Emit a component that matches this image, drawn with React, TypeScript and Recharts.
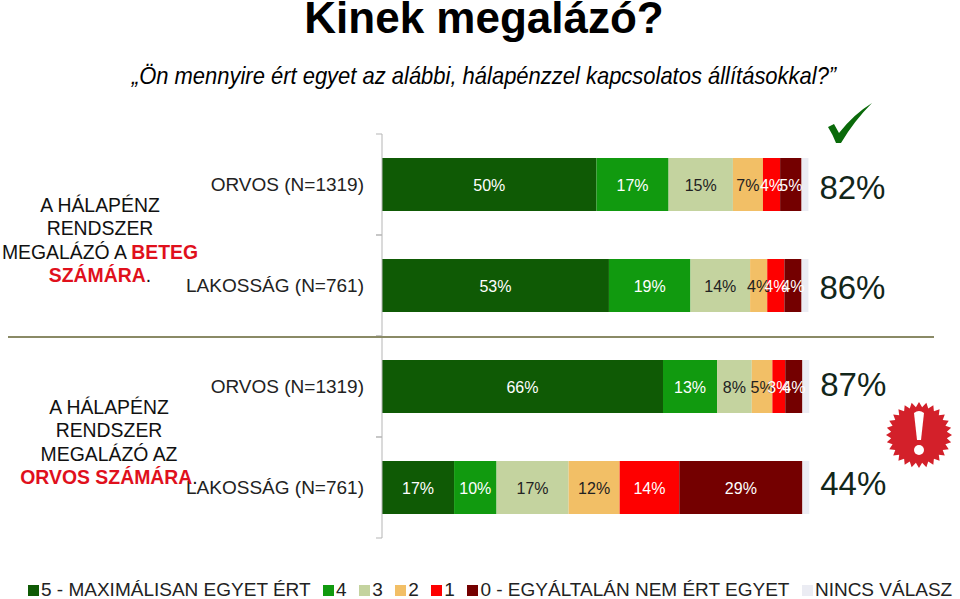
import { Bar, BarChart, LabelList, Legend, XAxis, YAxis } from 'recharts'

const GROUPS = ['ORVOS (N=1319)', 'LAKOSSÁG (N=761)', 'ORVOS (N=1319)', 'LAKOSSÁG (N=761)']
const ANSWER_5 = [50, 52.9, 65.5, 16.8]
const ANSWER_4 = [16.8, 19, 12.6, 9.9]
const ANSWER_3 = [15, 13.9, 8.1, 16.8]
const ANSWER_2 = [7, 4, 4.8, 11.9]
const ANSWER_1 = [4, 4, 3, 13.9]
const ANSWER_0 = [5, 4, 4, 28.7]
const NO_ANSWER = [1.6, 1.6, 1.6, 1.6]
const AGREE = ['82%', '86%', '87%', '44%']

const data = GROUPS.map((group, i) => ({
  group,
  a5: ANSWER_5[i], a4: ANSWER_4[i], a3: ANSWER_3[i], a2: ANSWER_2[i], a1: ANSWER_1[i], a0: ANSWER_0[i],
  none: NO_ANSWER[i],
  agree: AGREE[i],
}))

const SERIES = [
  { key: 'a5', name: '5 - MAXIMÁLISAN EGYET ÉRT', fill: '#0f5a05', text: '#fff' },
  { key: 'a4', name: '4', fill: '#119a0f', text: '#fff' },
  { key: 'a3', name: '3', fill: '#c4d39f', text: '#222' },
  { key: 'a2', name: '2', fill: '#f2bf66', text: '#222' },
  { key: 'a1', name: '1', fill: '#fe0000', text: '#fff' },
  { key: 'a0', name: '0 - EGYÁLTALÁN NEM ÉRT EGYET', fill: '#740000', text: '#fff' },
]

const FONT = '"Liberation Sans", Arial, sans-serif'
const BAND = 101
// the big percentages sit a little higher than the bars further down the slide
const AGREE_LIFT = [1, 2, 6, 8]

function GroupTick({ x, y, payload }: any) {
  return (
    <g>
      <line x1={376} x2={382} y1={y - BAND / 2} y2={y - BAND / 2} stroke="#b5b5b5" />
      <line x1={376} x2={382} y1={y + BAND / 2} y2={y + BAND / 2} stroke="#b5b5b5" />
      <text x={x} y={y} dy={6} textAnchor="end" fontSize={19} fill="#222" fontFamily={FONT}>{payload.value}</text>
    </g>
  )
}

function PercentLabel({ x, y, width, height, value, color }: any) {
  return (
    <text x={x + width / 2} y={y + height / 2} dy={6} textAnchor="middle" fontSize={16} fill={color} fontFamily={FONT}>
      {Math.round(value)}%
    </text>
  )
}

function AgreeLabel({ x, y, width, height, value, index }: any) {
  return (
    <text x={x + width + 44} y={y + height / 2} dy={15 - AGREE_LIFT[index]} textAnchor="middle" fontSize={33} fill="#12261a" fontFamily={FONT}>
      {value}
    </text>
  )
}

function LegendRow({ payload }: any) {
  return (
    <div style={{ display: 'flex', alignItems: 'center', fontFamily: FONT, fontSize: 19, lineHeight: '18px', color: '#222', whiteSpace: 'nowrap' }}>
      {(payload ?? []).map((p: any) => (
        <span key={p.value} style={{ display: 'flex', alignItems: 'center', marginRight: 12.5 }}>
          <span style={{ width: 11, height: 11, background: p.color, marginRight: 2 }} />
          {p.value}
        </span>
      ))}
    </div>
  )
}

function Seal() {
  const pts: string[] = []
  for (let i = 0; i < 56; i++) {
    const r = i % 2 ? 28 : 33
    const t = (i / 56) * Math.PI * 2
    pts.push(`${35 + r * Math.cos(t)},${35 + r * Math.sin(t)}`)
  }
  return (
    <svg width={70} height={70} style={{ position: 'absolute', left: 884, top: 400 }}>
      <polygon points={pts.join(' ')} fill="#d3202a" />
      <path d="M30 13 Q35 9 40 13 L37 40 L33 40 Z" fill="#fff" />
      <circle cx={35} cy={50} r={5} fill="#fff" />
    </svg>
  )
}

const sideText = { position: 'absolute', width: 200, textAlign: 'center', fontFamily: FONT, fontSize: 19.4, lineHeight: '23.3px', color: '#111' } as const
const red = { color: '#e0101c', fontWeight: 700 }

export default function App() {
  return (
    <div style={{ position: 'absolute', left: 0, top: 0, width: 960, height: 599, overflow: 'hidden', background: '#fff' }}>
      <div style={{ position: 'absolute', left: 0, width: 968, top: 0, textAlign: 'center', fontFamily: FONT, fontWeight: 700, fontSize: 44, lineHeight: '36px', color: '#000' }}>
        Kinek megalázó?
      </div>
      <div style={{ position: 'absolute', left: 0, width: 968, top: 62, textAlign: 'center', fontFamily: FONT, fontStyle: 'italic', fontSize: 24, color: '#000', transform: 'scaleX(0.915)' }}>
        „Ön mennyire ért egyet az alábbi, hálapénzzel kapcsolatos állításokkal?”
      </div>
      <BarChart
        width={960} height={599} data={data} layout="vertical"
        margin={{ top: 134, right: 149, bottom: 61, left: 0 }}
        barSize={53}
        style={{ position: 'absolute', left: 0, top: 0 }}
      >
        <XAxis type="number" domain={[0, 100]} hide />
        <YAxis
          type="category" dataKey="group" width={382}
          tickLine={false} tickSize={0} tickMargin={18}
          axisLine={{ stroke: '#b5b5b5' }}
          tick={<GroupTick />} interval={0}
        />
        <Legend
          layout="horizontal" verticalAlign="middle" itemSorter={null}
          content={<LegendRow />}
          wrapperStyle={{ left: 28, top: 581, width: 930 }}
        />
        {SERIES.map(s => (
          <Bar key={s.key} dataKey={s.key} name={s.name} stackId="a" fill={s.fill} isAnimationActive={false}>
            <LabelList dataKey={s.key} content={<PercentLabel color={s.text} />} />
          </Bar>
        ))}
        <Bar dataKey="none" name="NINCS VÁLASZ" stackId="a" fill="#ebecf3" isAnimationActive={false}>
          <LabelList dataKey="agree" content={<AgreeLabel />} />
        </Bar>
      </BarChart>
      <div style={{ position: 'absolute', left: 8, top: 336, width: 926, height: 2, background: '#8a8a66' }} />
      <div style={{ ...sideText, left: 0, top: 194 }}>
        A HÁLAPÉNZ<br />RENDSZER<br />MEGALÁZÓ A <span style={red}>BETEG</span><br /><span style={red}>SZÁMÁRA</span>.
      </div>
      <div style={{ ...sideText, left: 9, top: 396 }}>
        A HÁLAPÉNZ<br />RENDSZER<br />MEGALÁZÓ AZ<br /><span style={red}>ORVOS SZÁMÁRA</span>.
      </div>
      <svg width={60} height={60} style={{ position: 'absolute', left: 820, top: 95 }}>
        <path d="M8 32 L14 29 L19 38 Q34 19 52 8 Q34 26 21 48 L16 48 Q13 40 8 32 Z" fill="#0a6a0a" />
      </svg>
      <Seal />
    </div>
  )
}
